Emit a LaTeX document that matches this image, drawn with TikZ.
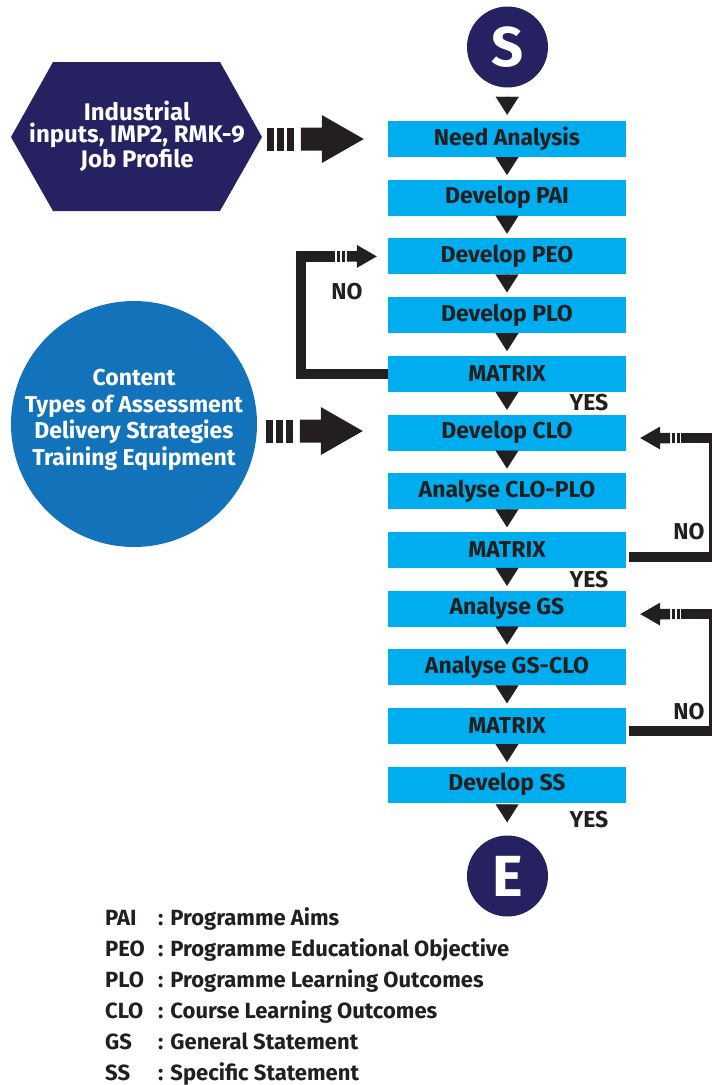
\documentclass[tikz,border=0pt]{standalone}
\usepackage{fontspec}
\setmainfont{Fira Sans}
\usetikzlibrary{calc,arrows.meta}

\definecolor{navy}{RGB}{38,34,98}
\definecolor{cyanbox}{RGB}{0,174,239}
\definecolor{midblue}{RGB}{19,115,186}
\definecolor{ink}{RGB}{35,31,32}

\tikzset{
  stepbox/.style={rectangle, fill=cyanbox, minimum width=238pt, minimum height=36pt,
    inner sep=0pt, text=ink, font=\bfseries\fontsize{23}{24}\selectfont},
  flow/.style={ink, line width=0.2pt, shorten >=4.5pt,
    -{Triangle[width=23pt,length=18pt]}},
  loopline/.style={ink, line width=10.5pt, line join=miter},
  thinline/.style={ink, line width=2.5pt},
  lbl/.style={text=ink, inner sep=0pt, font=\bfseries\fontsize{23}{24}\selectfont},
  legend/.style={text=ink, inner sep=0pt, anchor=base west,
    font=\bfseries\fontsize{22}{24}\selectfont},
  whitetext/.style={text=white, align=center, inner sep=0pt},
  % striped block arrow, tip at the origin, pointing right
  pics/bigarrow/.style={code={
    \fill[ink] (-97,-11.5) rectangle (-90,11.5);
    \fill[ink] (-87,-11.5) rectangle (-80,11.5);
    \fill[ink] (-77,-11.5) rectangle (-70,11.5);
    \fill[ink] (-63,-11.5) -- (-42,-11.5) -- (-42,-24) -- (0,0)
      -- (-42,24) -- (-42,11.5) -- (-63,11.5) -- cycle;
  }},
  % small striped arrow head ending a feedback line
  pics/smallarrow/.style={code={
    \fill[ink] (-40,-5.25) rectangle (-37,5.25);
    \fill[ink] (-35,-5.25) rectangle (-32,5.25);
    \fill[ink] (-30,-5.25) -- (-20,-5.25) -- (-20,-11.5) -- (0,0)
      -- (-20,11.5) -- (-20,5.25) -- (-30,5.25) -- cycle;
  }},
}

\begin{document}
\begin{tikzpicture}[x=1pt,y=-1pt]
\useasboundingbox (0,0) rectangle (712,1085);

% start and end
\node[circle, fill=navy, minimum size=81pt, inner sep=0pt, text=white,
  font=\bfseries\fontsize{56}{56}\selectfont] (s) at (507.5,47) {S};
\node[circle, fill=navy, minimum size=81pt, inner sep=0pt, text=white,
  font=\bfseries\fontsize{58}{58}\selectfont] (e) at (507.5,876) {E};

% process steps
\node[stepbox] (need)   at (507,139)   {Need Analysis};
\node[stepbox] (pai)    at (507,197.7) {Develop PAI};
\node[stepbox] (peo)    at (507,256.4) {Develop PEO};
\node[stepbox] (plo)    at (507,315.1) {Develop PLO};
\node[stepbox] (m1)     at (507,373.8) {MATRIX};
\node[stepbox] (clo)    at (507,432.5) {Develop CLO};
\node[stepbox] (cloplo) at (507,491.2) {Analyse CLO-PLO};
\node[stepbox] (m2)     at (507,549.9) {MATRIX};
\node[stepbox] (gs)     at (507,608.6) {Analyse GS};
\node[stepbox] (gsclo)  at (507,667.3) {Analyse GS-CLO};
\node[stepbox] (m3)     at (507,726)   {MATRIX};
\node[stepbox] (ss)     at (507,784.7) {Develop SS};

% main flow
\draw[flow, shorten <=8pt, shorten >=6pt] (s) -- (need);
\draw[flow] (need) -- (pai);
\draw[flow] (pai) -- (peo);
\draw[flow] (peo) -- (plo);
\draw[flow] (plo) -- (m1);
\draw[flow] (m1) -- (clo);
\draw[flow] (clo) -- (cloplo);
\draw[flow] (cloplo) -- (m2);
\draw[flow] (m2) -- (gs);
\draw[flow] (gs) -- (gsclo);
\draw[flow] (gsclo) -- (m3);
\draw[flow] (m3) -- (ss);
\draw[flow, shorten >=13pt] (ss) -- (e);

\node[lbl] (yes1) at (589,403) {YES};
\node[lbl] (yes2) at (589,580) {YES};
\node[lbl] (yes3) at (589,820) {YES};

% inputs
\fill[navy] (11,137) -- (53,62) -- (220,62) -- (262,137) -- (220,211) -- (53,211) -- cycle;
\node[whitetext, font=\bfseries\fontsize{24}{22.5}\selectfont] (hex) at (137,136)
  {Industrial\\inputs, IMP2, RMK-9\\Job Profile};
\pic at ($(need.west)+(-24,0)$) {bigarrow};

\node[circle, fill=midblue, minimum size=246pt, inner sep=0pt] (res) at (134,424) {};
\node[whitetext, font=\bfseries\fontsize{23}{26.5}\selectfont] (restext) at (134,420)
  {Content\\Types of Assessment\\Delivery Strategies\\Training Equipment};
\pic at ($(clo.west)+(-25,-1.5)$) {bigarrow};

% feedback: first matrix back to PEO
\draw[loopline] (m1.west) -- ++(-87,0) |- ($(peo.west)+(-53,0)$);
\pic at ($(peo.west)+(-11,0)$) {smallarrow};
\node[lbl] (no1) at (347,292) {NO};

% feedback: second matrix back to CLO
\draw[loopline] ($(m2.east)+(3,7)$) -- ($(m2.east)+(86,7)$);
\draw[thinline] ($(m2.east)+(84.5,11)$) -- ($(clo.east)+(84.5,0.5)$);
\draw[loopline] ($(clo.east)+(55,5.5)$) -- ($(clo.east)+(86,5.5)$);
\pic[rotate=180] at ($(clo.east)+(14,5.5)$) {smallarrow};
\node[lbl] (no2) at (689,532) {NO};

% feedback: third matrix back to GS
\draw[loopline] ($(m3.east)+(3,5)$) -- ($(m3.east)+(86,5)$);
\draw[thinline] ($(m3.east)+(84.5,9)$) -- ($(gs.east)+(84.5,0.5)$);
\draw[loopline] ($(gs.east)+(55,5.5)$) -- ($(gs.east)+(86,5.5)$);
\pic[rotate=180] at ($(gs.east)+(14,5.5)$) {smallarrow};
\node[lbl] (no3) at (689,712) {NO};

% abbreviations
\node[legend] (k1) at (105,925)  {PAI};
\node[legend] (d1) at (158,925)  {: Programme Aims};
\node[legend] (k2) at (105,956)  {PEO};
\node[legend] (d2) at (158,956)  {: Programme Educational Objective};
\node[legend] (k3) at (105,987)  {PLO};
\node[legend] (d3) at (158,987)  {: Programme Learning Outcomes};
\node[legend] (k4) at (105,1018) {CLO};
\node[legend] (d4) at (158,1018) {: Course Learning Outcomes};
\node[legend] (k5) at (105,1049) {GS};
\node[legend] (d5) at (158,1049) {: General Statement};
\node[legend] (k6) at (105,1080) {SS};
\node[legend] (d6) at (158,1080) {: Specific Statement};
\end{tikzpicture}
\end{document}
